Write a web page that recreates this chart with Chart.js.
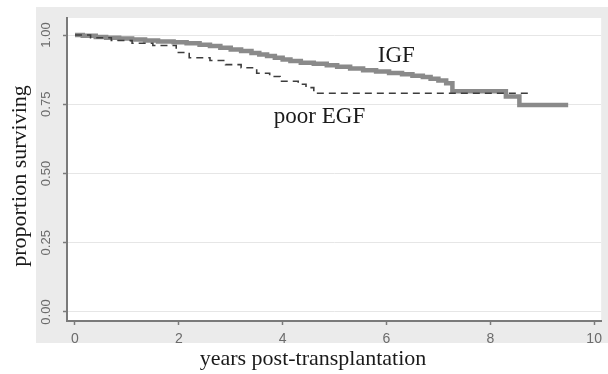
<!DOCTYPE html>
<html>
<head>
<meta charset="utf-8">
<script src="https://cdn.jsdelivr.net/npm/chart.js@4/dist/chart.umd.min.js"></script>
<style>
  html, body { margin: 0; padding: 0; background: #fff; }
</style>
</head>
<body>
<canvas id="survChart" width="608" height="374"></canvas>
<script>
// survival curves (years post-transplant, proportion surviving)
var igfYears = [0, 0.15, 0.4, 0.6, 0.85, 1.1, 1.35, 1.6, 1.9, 2.15, 2.4, 2.6, 2.8, 3.0, 3.2, 3.4, 3.55, 3.7, 3.85, 4.0,
                4.15, 4.35, 4.6, 4.85, 5.05, 5.3, 5.55, 5.8, 6.05, 6.3, 6.5, 6.7, 6.85, 7.0, 7.15, 7.27, 8.3, 8.56, 9.5];
var igfSurv  = [1.0, 0.997, 0.993, 0.99, 0.987, 0.984, 0.98, 0.977, 0.974, 0.97, 0.965, 0.96, 0.954, 0.948, 0.942, 0.935, 0.93, 0.924, 0.918, 0.912,
                0.906, 0.9, 0.896, 0.891, 0.885, 0.879, 0.873, 0.868, 0.863, 0.858, 0.853, 0.848, 0.842, 0.836, 0.826, 0.797, 0.778, 0.747, 0.747];

var egfYears = [0, 0.3, 0.7, 1.1, 1.5, 1.95, 2.2, 2.6, 2.9, 3.2, 3.5, 3.75, 3.95, 4.3, 4.45, 4.6, 8.8];
var egfSurv  = [1.0, 0.99, 0.98, 0.97, 0.962, 0.937, 0.918, 0.908, 0.893, 0.882, 0.862, 0.85, 0.833, 0.822, 0.81, 0.79, 0.79];

var seriesNames = ['IGF', 'poor EGF'];
var xTicks = [0, 2, 4, 6, 8, 10];
var yTicks = [0, 0.25, 0.5, 0.75, 1];

function toPoints(xs, ys) {
  return xs.map(function (x, i) { return { x: x, y: ys[i] }; });
}

// grey graph region + white plot region, stata style
var panelBackground = {
  id: 'panelBackground',
  beforeDraw: function (chart) {
    var ctx = chart.ctx, a = chart.chartArea;
    ctx.save();
    ctx.fillStyle = '#ebebeb';
    ctx.fillRect(36, 7, chart.width - 36, 336);
    ctx.fillStyle = '#ffffff';
    ctx.fillRect(a.left, a.top, a.right - a.left, a.bottom - a.top);
    ctx.restore();
  }
};

// axis titles and the curve labels
var textLayer = {
  id: 'textLayer',
  afterDraw: function (chart) {
    var ctx = chart.ctx, xs = chart.scales.x, ys = chart.scales.y;
    ctx.save();
    ctx.fillStyle = '#1a1a1a';
    ctx.textAlign = 'center';
    ctx.textBaseline = 'alphabetic';
    ctx.font = '22px "Liberation Serif", "Times New Roman", serif';
    ctx.fillText('years post-transplantation', 313, 365);
    ctx.save();
    ctx.translate(26, 176);
    ctx.rotate(-Math.PI / 2);
    ctx.fillText('proportion surviving', 0, 0);
    ctx.restore();

    ctx.font = '23px "Liberation Serif", "Times New Roman", serif';
    ctx.fillText(seriesNames[0], xs.getPixelForValue(6.19), ys.getPixelForValue(0.9025));
    ctx.fillText(seriesNames[1], xs.getPixelForValue(4.71), ys.getPixelForValue(0.682));
    ctx.restore();
  }
};

var tickFont = { family: "'Liberation Sans Narrow', 'Liberation Sans', Arial, sans-serif", size: 13 };

var ctx = document.getElementById('survChart').getContext('2d');
var survChart = new Chart(ctx, {
  type: 'line',
  data: {
    datasets: [{
      label: seriesNames[1],
      data: toPoints(egfYears, egfSurv),
      stepped: true,
      borderColor: '#3d3d3d',
      borderWidth: 1.6,
      borderDash: [7, 5],
      fill: false,
      pointRadius: 0
    }, {
      label: seriesNames[0],
      data: toPoints(igfYears, igfSurv),
      stepped: true,
      borderColor: '#8a8a8a',
      borderWidth: 4.5,
      fill: false,
      pointRadius: 0
    }]
  },
  options: {
    responsive: false,
    animation: false,
    devicePixelRatio: 1,
    layout: { padding: { left: 0, top: 18, right: 6, bottom: 0 } },
    plugins: {
      legend: { display: false },
      tooltip: { enabled: false }
    },
    scales: {
      x: {
        type: 'linear',
        min: -0.154,
        max: 10.135,
        afterBuildTicks: function (s) { s.ticks = xTicks.map(function (v) { return { value: v }; }); },
        afterFit: function (s) { s.height = 53; },
        border: { color: '#7a7a7a', width: 2 },
        grid: { drawOnChartArea: false, drawTicks: true, tickLength: 4, tickColor: '#7a7a7a', tickWidth: 1.5 },
        ticks: { padding: 6, color: '#6b6b6b', maxRotation: 0, font: { family: "'Liberation Sans', Arial, sans-serif", size: 14 } }
      },
      y: {
        type: 'linear',
        min: -0.0325,
        max: 1.0614,
        afterBuildTicks: function (s) { s.ticks = yTicks.map(function (v) { return { value: v }; }); },
        afterFit: function (s) { s.width = 67; },
        border: { color: '#7a7a7a', width: 2 },
        grid: { color: '#e6e6e6', lineWidth: 1, tickLength: 4, tickColor: '#7a7a7a', tickWidth: 1.5 },
        ticks: {
          minRotation: 90,
          maxRotation: 90,
          crossAlign: 'center',
          padding: 4,
          color: '#6b6b6b',
          font: tickFont,
          callback: function (v) { return v.toFixed(2); }
        }
      }
    }
  },
  plugins: [panelBackground, textLayer]
});
</script>
</body>
</html>
